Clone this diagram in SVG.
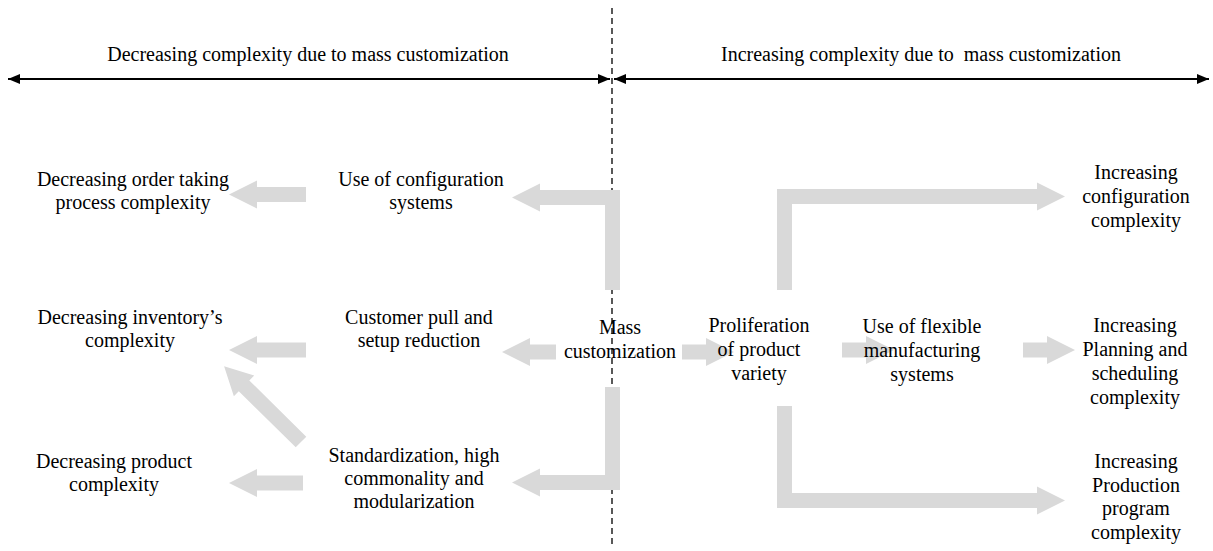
<svg xmlns="http://www.w3.org/2000/svg" width="1213" height="551" viewBox="0 0 1213 551">
<style>
text{font-family:"Liberation Serif","Times New Roman",serif;font-size:20px;fill:#000;text-anchor:middle}
.g{fill:#d9d9d9;stroke:none}
.ax{stroke:#000;stroke-width:2;fill:none}
.dash{stroke:#000;stroke-width:1.3;stroke-dasharray:6,4;fill:none}
</style>
<defs>
<marker id="ah" viewBox="0 0 12 10" refX="12" refY="5" markerWidth="12" markerHeight="10" markerUnits="userSpaceOnUse" orient="auto-start-reverse">
<path d="M0,0 L12,5 L0,10 Z" fill="#000"/>
</marker>
</defs>
<rect width="1213" height="551" fill="#fff"/>
<g id="connectors">
<line class="dash" x1="612" y1="8" x2="612" y2="548"/>
<line class="ax" x1="8" y1="79" x2="610" y2="79" marker-start="url(#ah)" marker-end="url(#ah)"/>
<line class="ax" x1="614" y1="79" x2="1209" y2="79" marker-start="url(#ah)" marker-end="url(#ah)"/>
<polygon class="g" points="306,187 257,187 257,180.5 229,194.5 257,208.5 257,202 306,202"/>
<polygon class="g" points="605,290 620,290 620,190 540,190 540,183.5 512,197.5 540,211.5 540,205 605,205"/>
<polygon class="g" points="556,344.5 530,344.5 530,338 502,352 530,366 530,359.5 556,359.5"/>
<polygon class="g" points="682,344.5 706,344.5 706,338 734,352 706,366 706,359.5 682,359.5"/>
<polygon class="g" points="306,342.5 257,342.5 257,336 229,350 257,364 257,357.5 306,357.5"/>
<polygon class="g" transform="translate(301,442) rotate(-135.4)" points="0,-7.5 80,-7.5 80,-14.5 108,0 80,14.5 80,7.5 0,7.5"/>
<polygon class="g" points="303,475.5 257,475.5 257,469 229,483 257,497 257,490.5 303,490.5"/>
<polygon class="g" points="605,387 620,387 620,490 540,490 540,496.5 512,482.5 540,468.5 540,475 605,475"/>
<polygon class="g" points="777,290 792,290 792,204 1037,204 1037,210.5 1065,196.5 1037,182.5 1037,189 777,189"/>
<polygon class="g" points="842,342.5 866,342.5 866,336 894,350 866,364 866,357.5 842,357.5"/>
<polygon class="g" points="1023,342.5 1047,342.5 1047,336 1075,350 1047,364 1047,357.5 1023,357.5"/>
<polygon class="g" points="777,406 792,406 792,493 1037,493 1037,486.5 1065,500.5 1037,514.5 1037,508 777,508"/>
</g>
<g id="header-left"><text x="308" y="61">Decreasing complexity due to mass customization</text></g>
<g id="header-right"><text x="921" y="61" xml:space="preserve">Increasing complexity due to  mass customization</text></g>
<g id="n-order"><text x="133" y="186">Decreasing order taking</text><text x="133" y="209">process complexity</text></g>
<g id="n-config-sys"><text x="421" y="186">Use of configuration</text><text x="421" y="209">systems</text></g>
<g id="n-inventory"><text x="130" y="324">Decreasing inventory’s</text><text x="130" y="347">complexity</text></g>
<g id="n-pull"><text x="419" y="324">Customer pull and</text><text x="419" y="347">setup reduction</text></g>
<g id="n-mass"><text x="620" y="334">Mass</text><text x="620" y="358">customization</text></g>
<g id="n-prolif"><text x="759" y="332">Proliferation</text><text x="759" y="356">of product</text><text x="759" y="380">variety</text></g>
<g id="n-flex"><text x="922" y="333">Use of flexible</text><text x="922" y="357">manufacturing</text><text x="922" y="381">systems</text></g>
<g id="n-config-cx"><text x="1136" y="179">Increasing</text><text x="1136" y="203">configuration</text><text x="1136" y="227">complexity</text></g>
<g id="n-planning"><text x="1135" y="332">Increasing</text><text x="1135" y="356">Planning and</text><text x="1135" y="380">scheduling</text><text x="1135" y="404">complexity</text></g>
<g id="n-std"><text x="414" y="462">Standardization, high</text><text x="414" y="485">commonality and</text><text x="414" y="508">modularization</text></g>
<g id="n-product"><text x="114" y="468">Decreasing product</text><text x="114" y="491">complexity</text></g>
<g id="n-production"><text x="1136" y="468">Increasing</text><text x="1136" y="492">Production</text><text x="1136" y="515">program</text><text x="1136" y="539">complexity</text></g>
</svg>
